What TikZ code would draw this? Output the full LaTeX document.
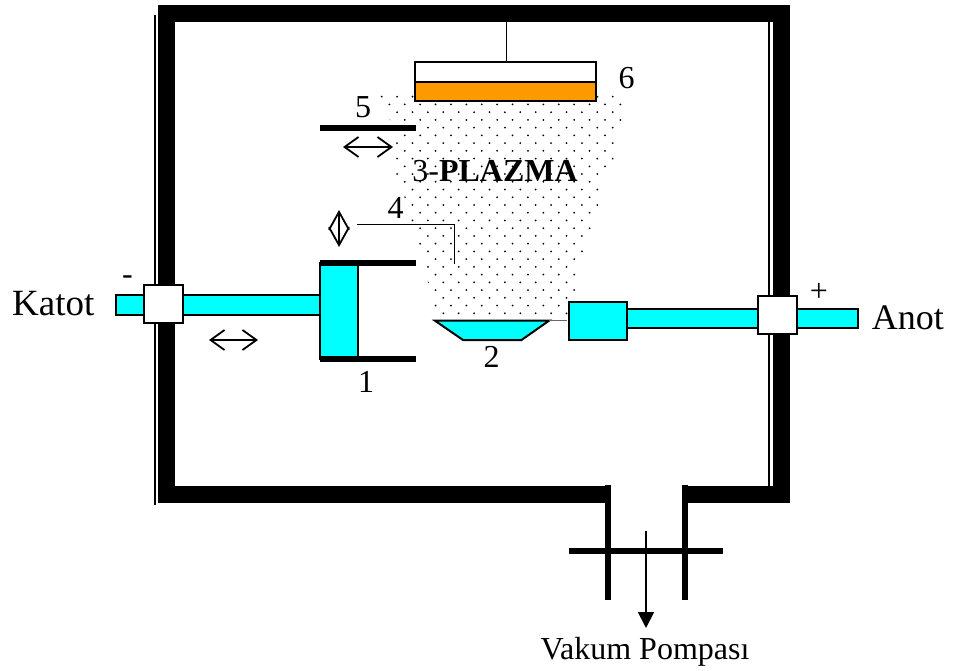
\documentclass[tikz,border=0pt]{standalone}
\usepackage{fontspec}
\setmainfont{Liberation Serif}
\usetikzlibrary{arrows.meta}
\definecolor{rodcyan}{RGB}{0,255,255}
\definecolor{filmorange}{RGB}{255,153,0}
\tikzset{
    wall/.style={line width=17pt,line cap=butt,line join=miter},
    pipe/.style={line width=6pt},
    part/.style={draw,line width=2pt,fill=rodcyan},
    seal/.style={draw,line width=2pt,fill=white},
    move/.style={line width=1.8pt,{Straight Barb[length=14pt,width=20pt]}-{Straight Barb[length=14pt,width=20pt]}},
    lift/.style={line width=1.8pt,{Straight Barb[length=18pt,width=20pt]}-{Straight Barb[length=18pt,width=20pt]}},
    label/.style={font=\fontsize{32}{32}\selectfont,inner sep=0pt}
}
\begin{document}
\begin{tikzpicture}[x=1pt,y=-1pt]
\useasboundingbox (0,0) rectangle (956,671);
\begin{scope}
    \clip (378,92) -- (625,92) -- (625,108) -- (616,150) -- (610,170) -- (601,185)
        -- (600,200) -- (594,215) -- (592,232) -- (580,265) -- (578,285) -- (570,319)
        -- (438,319) -- (432,300) -- (424,265) -- (416,235) -- (408,215) -- (402,185)
        -- (392,168) -- (392,125) -- (385,108) -- cycle;
    \foreach \r in {0,...,28}
        \foreach \c in {0,...,15} {
            \pgfmathsetmacro{\dotx}{381.7+15.4*\c+7.65*mod(\r,2)}
            \pgfmathsetmacro{\doty}{96.7+7.735*\r}
            \fill (\dotx,\doty) circle (1);
        }
\end{scope}
\draw[wall] (610.7,494) -- (166.5,494) -- (166.5,13.5) -- (781,13.5) -- (781,494) -- (681.7,494);
\draw[line width=1.2pt] (155,15) -- (155,505);
\draw[line width=1.2pt] (769,22) -- (769,487);
\draw[pipe] (607.7,485) -- (607.7,600);
\draw[pipe] (684.7,485) -- (684.7,600);
\draw[pipe] (569,551) -- (722.7,551);
\coordinate (pumptop) at (646,531);
\coordinate (pumpend) at (646,628);
\draw[line width=1.8pt,-{Triangle[length=16pt,width=16pt]}] (pumptop) -- (pumpend);
\coordinate (stemtop) at (506.5,22);
\node[seal,minimum width=181pt,minimum height=20pt,inner sep=0pt] (target) at (505.8,72) {};
\node[draw,line width=2pt,fill=filmorange,minimum width=181pt,minimum height=19pt,inner sep=0pt] (film) at (505.8,91.5) {};
\draw[line width=1.8pt] (stemtop) -- (target.north -| stemtop);
\coordinate (shutterl) at (320,128);
\coordinate (shutterr) at (416,128);
\draw[pipe] (shutterl) -- (shutterr);
\coordinate (shuttera) at (343,147);
\coordinate (shutterb) at (393,147);
\draw[move] (shuttera) -- (shutterb);
\coordinate (probel) at (357,224.5);
\coordinate (probee) at (454.5,264);
\draw[line width=1.8pt] (probel) -| (probee);
\coordinate (probea) at (339,210);
\coordinate (probeb) at (339,247);
\draw[lift] (probea) -- (probeb);
\node[part,minimum width=204pt,minimum height=20pt,inner sep=0pt] (catrod) at (218,305) {};
\node[part,minimum width=38pt,minimum height=96pt,inner sep=0pt] (catblock) at (338.5,311) {};
\draw[pipe] (320,263) -- (415.5,263);
\draw[pipe] (320,358.7) -- (415.5,358.7);
\node[seal,minimum width=38.5pt,minimum height=38.5pt,inner sep=0pt] (catseal) at (163.3,304) {};
\coordinate (cata) at (209,340);
\coordinate (catb) at (258,340);
\draw[move] (cata) -- (catb);
\node[part,minimum width=231pt,minimum height=19pt,inner sep=0pt] (anrod) at (742,318.8) {};
\node[part,minimum width=58pt,minimum height=38.5pt,inner sep=0pt] (anblock) at (598.3,320.8) {};
\node[seal,minimum width=38.5pt,minimum height=38.5pt,inner sep=0pt] (anseal) at (777.3,315) {};
\draw[part] (435,320.7) -- (549,320.7) -- (521.5,340) -- (463,340) -- cycle;
\draw[black!60,line width=0.7pt] (549,320.7) -- (567,320.7);
\node[label,anchor=base] (one) at (366,392.5) {1};
\node[label,anchor=base] (two) at (491.7,367.5) {2};
\node[label,anchor=base] (four) at (395.7,218.5) {4};
\node[label,anchor=base] (five) at (363,118) {5};
\node[label,anchor=base] (six) at (626.7,89) {6};
\node[label,anchor=base] (plasma) at (495,181.7) {3-\textbf{PLAZMA}};
\node[label,anchor=base] (minus) at (127.5,284) {-};
\node[label,anchor=base] (plus) at (819,301) {+};
\node[label,font=\fontsize{37}{37}\selectfont,anchor=base west] (katot) at (12,315.7) {Katot};
\node[label,font=\fontsize{36}{36}\selectfont,anchor=base west] (anot) at (871.7,329) {Anot};
\node[label,anchor=base] (pump) at (645,659.3) {Vakum Pompası};
\end{tikzpicture}
\end{document}
